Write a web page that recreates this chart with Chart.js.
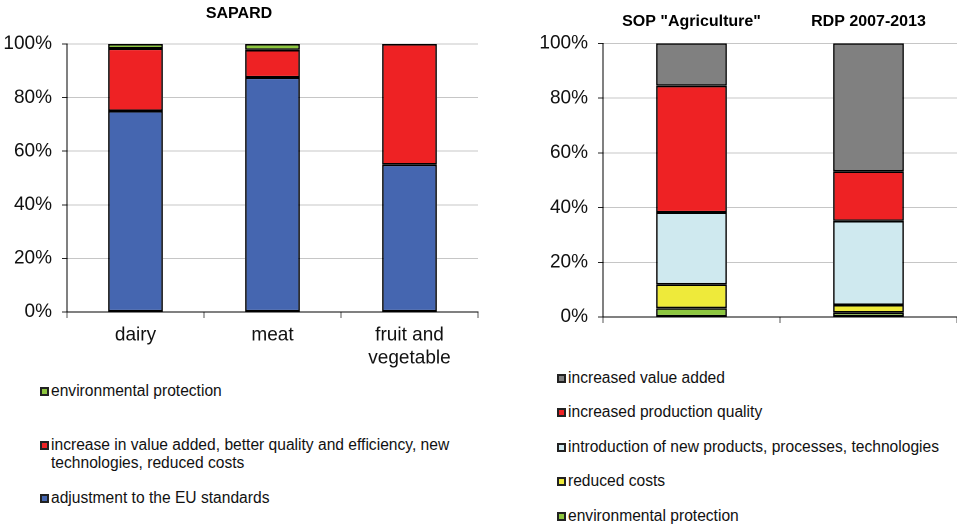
<!DOCTYPE html>
<html lang="en">
<head>
<meta charset="UTF-8">
<title>SAPARD / SOP / RDP</title>
<script src="https://cdn.jsdelivr.net/npm/chart.js"></script>
<style>
  body { margin: 0; background: #fff; font-family: "Liberation Sans", Arial, sans-serif; }
  #wrap { position: relative; width: 957px; height: 525px; overflow: hidden; }
  .box { position: absolute; }
  .leg { position: absolute; font-size: 15.6px; color: #111; line-height: 18px; }
  .leg i { position: absolute; left: 0; top: 4.5px; width: 5px; height: 5px; border: 2px solid #222; }
  .leg span { display: block; padding-left: 11px; }
</style>
</head>
<body>
<div id="wrap">
  <div class="box" style="left:0;top:0"><canvas id="left" width="480" height="375"></canvas></div>
  <div class="box" style="left:480px;top:0"><canvas id="right" width="477" height="335"></canvas></div>
</div>
<script>
// left chart - SAPARD
const sapardCats = ['dairy', 'meat', ['fruit and', 'vegetable']];
const sapardAdjust = [75, 87.5, 55];
const sapardIncrease = [23.3, 10.3, 45];
const sapardEnv = [1.7, 2.2, 0];

// right chart - SOP "Agriculture" / RDP 2007-2013
const progCats = ['SOP "Agriculture"', 'RDP 2007-2013'];
const progEnv = [3.2, 1.6];
const progReduced = [8.7, 2.8];
const progNew = [26.3, 30.7];
const progQuality = [46.3, 18.1];
const progValue = [15.5, 46.8];

const yTicks = [0, 20, 40, 60, 80, 100];

const FONT = '"Liberation Sans", Arial, sans-serif';
const C = {
  blue: '#4566b0', red: '#ee2224', green: '#8dc63f',
  gray: '#808080', lightblue: '#cfe9ef', yellow: '#eeea3a'
};

function ds(label, data, color) {
  return {
    label: label, data: data, backgroundColor: color,
    borderColor: '#000', borderWidth: 1.6, borderSkipped: false,
    barPercentage: 0.4, categoryPercentage: 1
  };
}

function yScale(width) {
  return {
    stacked: true, min: 0, max: 100,
    afterBuildTicks: s => { s.ticks = yTicks.map(v => ({ value: v })); },
    ticks: { callback: v => v + '%', font: { family: FONT, size: 19 }, color: '#111', padding: 10 },
    grid: { color: '#8c8c8c', tickColor: '#222', tickLength: 5, tickBorderDash: [] },
    border: { color: '#000', width: 1, dash: [1, 1] },
    // fixed width, and no extra room reserved for the end labels
    afterFit: s => { s.width = width; s.paddingTop = 0; s.paddingBottom = 0; }
  };
}

const sapardSets = [
  ds('adjustment to the EU standards', sapardAdjust, C.blue),
  ds('increase in value added, better quality and efficiency, new technologies, reduced costs', sapardIncrease, C.red),
  ds('environmental protection', sapardEnv, C.green)
];

// rendered at 2x so stacked segment edges don't leave light seams
new Chart(document.getElementById('left'), {
  type: 'bar',
  data: { labels: sapardCats, datasets: sapardSets },
  options: {
    responsive: false, animation: false, devicePixelRatio: 2,
    layout: { padding: { left: 0, right: 2, top: 0, bottom: 0 } },
    plugins: {
      legend: { display: false }, tooltip: { enabled: false },
      title: {
        display: true, text: 'SAPARD', color: '#000',
        font: { family: FONT, size: 16, weight: 'bold' },
        padding: { top: 4, bottom: 20.8 }
      }
    },
    scales: {
      x: {
        stacked: true, offset: true,
        grid: { offset: true, drawOnChartArea: false, tickLength: 6, color: '#555' },
        border: { color: '#000', width: 1 },
        ticks: { font: { family: FONT, size: 19 }, color: '#111', padding: 6, maxRotation: 0, autoSkip: false },
        afterFit: s => { s.height = 63; }
      },
      y: yScale(67)
    }
  }
});

const progSets = [
  ds('environmental protection', progEnv, C.green),
  ds('reduced costs', progReduced, C.yellow),
  ds('introduction of new products, processes, technologies', progNew, C.lightblue),
  ds('increased production quality', progQuality, C.red),
  ds('increased value added', progValue, C.gray)
];

new Chart(document.getElementById('right'), {
  type: 'bar',
  data: { labels: progCats, datasets: progSets },
  options: {
    responsive: false, animation: false, devicePixelRatio: 2,
    layout: { padding: { left: 0, right: 0, top: 0, bottom: 0 } },
    plugins: { legend: { display: false }, tooltip: { enabled: false } },
    scales: {
      x: {
        stacked: true, offset: true,
        grid: { offset: true, drawOnChartArea: false, tickLength: 6, color: '#555' },
        border: { color: '#000', width: 1 },
        ticks: { display: false },
        afterFit: s => { s.height = 18; }
      },
      x2: {
        type: 'category', labels: progCats, position: 'top', offset: true,
        grid: { display: false, drawTicks: false }, border: { display: false },
        ticks: { font: { family: FONT, size: 16, weight: 'bold' }, color: '#000', padding: 12, maxRotation: 0 },
        afterFit: s => { s.height = 43.3; }
      },
      y: yScale(123)
    }
  }
});

// legends as html, reversed so the top series comes first
function legend(sets, left, tops, width) {
  const wrap = document.getElementById('wrap');
  sets.slice().reverse().forEach((d, i) => {
    const el = document.createElement('div');
    el.className = 'leg';
    el.style.left = left + 'px';
    el.style.top = tops[i] + 'px';
    el.style.width = width + 'px';
    el.innerHTML = '<i style="background:' + d.backgroundColor + '"></i><span></span>';
    el.querySelector('span').textContent = d.label;
    wrap.appendChild(el);
  });
}
legend(sapardSets, 40, [382, 436, 489], 425);
legend(progSets, 557, [369, 403, 438, 472, 507], 395);
</script>
</body>
</html>
